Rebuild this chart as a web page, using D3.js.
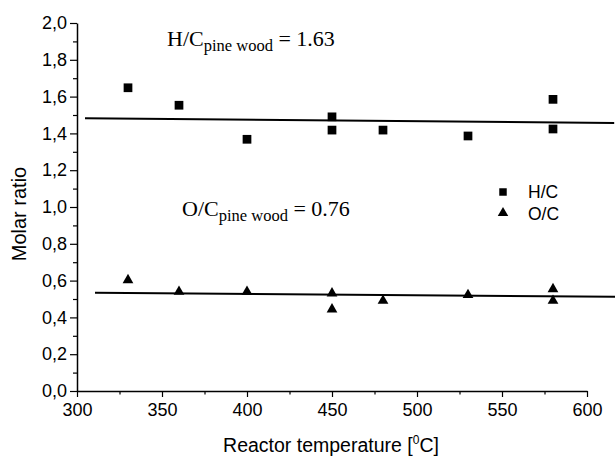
<!DOCTYPE html>
<html><head><meta charset="utf-8">
<script src="https://cdn.jsdelivr.net/npm/d3@7"></script>
<style>body{margin:0;background:#fff}svg{display:block}</style>
</head><body><svg id="c" width="615" height="457"></svg>
<script>
const hcTemps = [330, 360, 400, 450, 450, 480, 530, 580, 580];
const hcValues = [1.648, 1.553, 1.368, 1.490, 1.418, 1.418, 1.386, 1.585, 1.424];
const ocTemps = [330, 360, 400, 450, 450, 480, 530, 580, 580];
const ocValues = [0.603, 0.540, 0.540, 0.531, 0.444, 0.491, 0.522, 0.554, 0.491];
const hcFit = [[304.7, 1.482], [616, 1.457]];
const ocFit = [[310.6, 0.534], [616.5, 0.5125]];
const xTicks = [300, 350, 400, 450, 500, 550, 600];
const yTicks = [0, 0.2, 0.4, 0.6, 0.8, 1.0, 1.2, 1.4, 1.6, 1.8, 2.0];

const SANS = "Liberation Sans, Arial, sans-serif";
const SERIF = "Liberation Serif, Times New Roman, serif";
const svg = d3.select("#c");
const x = d3.scaleLinear().domain([300, 600]).range([77, 587]);
const y = d3.scaleLinear().domain([0, 2]).range([391, 23]);
const fmtY = d => d3.format(".1f")(d).replace(".", ",");

svg.append("g").attr("transform", "translate(0,391)")
  .call(d3.axisBottom(x).tickValues(xTicks).tickSize(6).tickPadding(6).tickSizeOuter(0));
const xm = svg.append("g").attr("transform", "translate(0,391)")
  .call(d3.axisBottom(x).tickValues(d3.range(325, 600, 50)).tickSize(3.5).tickFormat("").tickSizeOuter(0));
xm.select(".domain").remove();
svg.append("g").attr("transform", "translate(77,0)")
  .call(d3.axisLeft(y).tickValues(yTicks).tickFormat(fmtY).tickSize(7).tickPadding(3).tickSizeOuter(0));
const ym = svg.append("g").attr("transform", "translate(77,0)")
  .call(d3.axisLeft(y).tickValues(d3.range(0.1, 2, 0.2)).tickSize(4).tickFormat("").tickSizeOuter(0));
ym.select(".domain").remove();
svg.selectAll(".domain").attr("stroke", "#000").attr("stroke-width", 1.5);
svg.selectAll(".tick line").attr("stroke", "#000").attr("stroke-width", 1.2);
svg.selectAll(".tick text").attr("font-family", SANS).attr("font-size", 18).attr("fill", "#000");

const line = d3.line().x(d => x(d[0])).y(d => y(d[1]));
[hcFit, ocFit].forEach(f => svg.append("path").attr("d", line(f))
  .attr("stroke", "#000").attr("stroke-width", 2).attr("fill", "none"));

const sq = d3.symbol().type(d3.symbolSquare).size(76);
const tri = d3.symbol().type(d3.symbolTriangle).size(50);
svg.append("g").selectAll("path").data(hcTemps.map((t, i) => [t, hcValues[i]])).join("path")
  .attr("d", sq).attr("transform", d => `translate(${x(d[0])},${y(d[1])})`).attr("fill", "#000");
svg.append("g").selectAll("path").data(ocTemps.map((t, i) => [t, ocValues[i]])).join("path")
  .attr("d", tri).attr("transform", d => `translate(${x(d[0])},${y(d[1])})`).attr("fill", "#000");

// legend
svg.append("path").attr("d", d3.symbol().type(d3.symbolSquare).size(56)())
  .attr("transform", "translate(503,192)").attr("fill", "#000");
svg.append("path").attr("d", d3.symbol().type(d3.symbolTriangle).size(48)())
  .attr("transform", "translate(503,213)").attr("fill", "#000");
const lg = svg.append("g").attr("font-family", SANS).attr("font-size", 17.5);
lg.append("text").attr("x", 528).attr("y", 198).text("H/C");
lg.append("text").attr("x", 528).attr("y", 220).text("O/C");

function annot(xp, yp, main, val) {
  const t = svg.append("text").attr("x", xp).attr("y", yp)
    .attr("font-family", SERIF).attr("font-size", 22);
  t.append("tspan").text(main);
  t.append("tspan").attr("font-size", 16.5).attr("dy", 5).text("pine wood");
  t.append("tspan").attr("dy", -5).text(" = " + val);
}
annot(167, 46, "H/C", "1.63");
annot(182, 216, "O/C", "0.76");

const xt = svg.append("text").attr("x", 331).attr("y", 452).attr("text-anchor", "middle")
  .attr("font-family", SANS).attr("font-size", 19.5);
xt.append("tspan").text("Reactor temperature [");
xt.append("tspan").attr("font-size", 12).attr("dy", -8).text("0");
xt.append("tspan").attr("dy", 8).text("C]");
svg.append("text").attr("transform", "translate(26,214) rotate(-90)").attr("text-anchor", "middle")
  .attr("font-family", SANS).attr("font-size", 20).text("Molar ratio");
</script></body></html>
